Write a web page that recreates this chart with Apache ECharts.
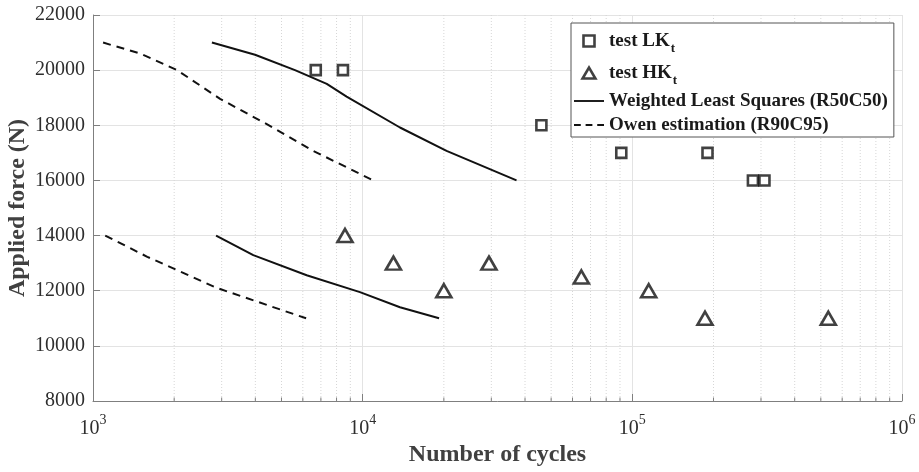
<!DOCTYPE html>
<html>
<head>
<meta charset="utf-8">
<script src="https://cdn.jsdelivr.net/npm/echarts@6/dist/echarts.min.js"></script>
<style>
  html, body { margin: 0; padding: 0; background: #fff; }
  #chart { width: 919px; height: 472px; }
</style>
</head>
<body>
<div id="chart"></div>
<script>
// Fatigue test results (low and high stress concentration) with S-N curve estimates
const lkCycles = [6700, 8450, 46000, 91000, 190000, 280000, 309000];
const lkForce  = [20000, 20000, 18000, 17000, 17000, 16000, 16000];

const hkCycles = [8600, 13000, 20000, 29400, 64700, 115000, 186000, 533000];
const hkForce  = [14000, 13000, 12000, 13000, 12500, 12000, 11000, 11000];

// Weighted least squares median curves (R50C50)
const wlsLkCycles = [2760, 3990, 5610, 7360, 8720, 13750, 20470, 37200];
const wlsLkForce  = [21000, 20560, 20000, 19500, 19040, 17920, 17070, 16000];
const wlsHkCycles = [2860, 3930, 6200, 9770, 13750, 19200];
const wlsHkForce  = [14000, 13290, 12560, 11950, 11400, 11000];

// Owen tolerance curves (R90C95)
const owenLkCycles = [1090, 1500, 2050, 2960, 4410, 6560, 10950];
const owenLkForce  = [21000, 20600, 20000, 18960, 18040, 17070, 16000];
const owenHkCycles = [1110, 1590, 2880, 6170];
const owenHkForce  = [14000, 13230, 12100, 11000];

// Minor log-decade positions for the dotted grid
const minorCycles = [2000, 3000, 4000, 5000, 6000, 7000, 8000, 9000,
                     20000, 30000, 40000, 50000, 60000, 70000, 80000, 90000,
                     200000, 300000, 400000, 500000, 600000, 700000, 800000, 900000];

const forceMin = 8000, forceMax = 22000, forceStep = 2000;

const pairs = (xs, ys) => xs.map((x, i) => [x, ys[i]]);

const FONT = 'Liberation Serif';
const AXIS_GRAY = '#7f7f7f';
const GRID_GRAY = '#e3e3e3';
const INK = '#111111';

// legend glyphs
const ICON_SQUARE = 'path://M0,0 L10,0 L10,10 L0,10 Z';
const ICON_TRIANGLE = 'path://M0,12 L7,0 L14,12 Z';
const ICON_SOLID = 'path://M0,0 L32,0 L32,2 L0,2 Z';
const ICON_DASHED = 'path://M0,0 L7,0 L7,2 L0,2 Z M12,0 L19,0 L19,2 L12,2 Z M24,0 L31,0 L31,2 L24,2 Z';

const chart = echarts.init(document.getElementById('chart'));

const lineBase = {
  type: 'line',
  symbol: 'none',
  smooth: false,
  z: 3,
  silent: true
};

chart.setOption({
  animation: false,
  backgroundColor: '#ffffff',
  grid: { left: 93, right: 17, top: 15, bottom: 71, containLabel: false, outerBoundsMode: 'none' },
  legend: {
    orient: 'vertical',
    left: 571,
    top: 23,
    padding: [3, 6, 1, 3],
    itemWidth: 30,
    itemHeight: 11,
    itemGap: 2,
    symbolKeepAspect: true,
    backgroundColor: '#ffffff',
    borderColor: '#555555',
    borderWidth: 1,
    borderRadius: 0,
    data: [
      { name: 'test LKt', icon: ICON_SQUARE, itemStyle: { borderWidth: 2.6 } },
      { name: 'test HKt', icon: ICON_TRIANGLE, itemStyle: { borderWidth: 2.6 } },
      { name: 'Weighted Least Squares (R50C50)', icon: ICON_SOLID, itemStyle: { color: INK, borderWidth: 0 } },
      { name: 'Owen estimation (R90C95)', icon: ICON_DASHED, itemStyle: { color: INK, borderWidth: 0 } }
    ],
    textStyle: {
      fontFamily: FONT,
      fontSize: 19,
      fontWeight: 'bold',
      color: '#1a1a1a',
      lineHeight: 22,
      rich: {
        m: { fontFamily: FONT, fontSize: 19, fontWeight: 'bold', color: '#1a1a1a', lineHeight: 22 },
        sub: { fontFamily: FONT, fontSize: 13, fontWeight: 'bold', color: '#1a1a1a', padding: [16, 0, 0, 1], lineHeight: 30 }
      }
    },
    formatter: function (name) {
      if (name === 'test LKt') return '{m|test LK}{sub|t}';
      if (name === 'test HKt') return '{m|test HK}{sub|t}';
      return '{m|' + name + '}';
    }
  },
  xAxis: {
    type: 'log',
    logBase: 10,
    min: 1000,
    max: 1000000,
    name: 'Number of cycles',
    nameLocation: 'middle',
    nameGap: 42,
    nameMoveOverlap: false,
    nameTextStyle: { fontFamily: FONT, fontSize: 24, fontWeight: 'bold', color: '#404040' },
    axisLine: { lineStyle: { color: AXIS_GRAY, width: 1 } },
    axisTick: { inside: true, length: 7, lineStyle: { color: AXIS_GRAY } },
    splitLine: { show: true, lineStyle: { color: GRID_GRAY, width: 1 } },
    minorTick: { show: false },
    axisLabel: {
      margin: 10,
      formatter: function (v) {
        return '{b|10}{s|' + Math.round(Math.log10(v)) + '}';
      },
      rich: {
        b: { fontFamily: FONT, fontSize: 20, color: '#2e2e2e', padding: [8, 0, 0, 0] },
        s: { fontFamily: FONT, fontSize: 14, color: '#2e2e2e', padding: [0, 0, 10, 0] }
      }
    }
  },
  yAxis: {
    type: 'value',
    min: forceMin,
    max: forceMax,
    interval: forceStep,
    name: 'Applied force (N)',
    nameLocation: 'middle',
    nameGap: 63,
    nameMoveOverlap: false,
    nameTextStyle: { fontFamily: FONT, fontSize: 24, fontWeight: 'bold', color: '#404040' },
    axisLine: { show: true, lineStyle: { color: AXIS_GRAY, width: 1 } },
    axisTick: { show: true, inside: true, length: 7, lineStyle: { color: AXIS_GRAY } },
    splitLine: { show: true, lineStyle: { color: GRID_GRAY, width: 1 } },
    axisLabel: {
      margin: 8,
      fontFamily: FONT,
      fontSize: 20,
      color: '#2e2e2e',
      formatter: function (v) { return String(v); }
    }
  },
  series: [
    {
      // dotted minor grid with short inward ticks at 2..9 of each decade
      type: 'custom',
      name: 'minor',
      silent: true,
      z: 1,
      data: minorCycles.map(c => [c, forceMin]),
      renderItem: function (params, api) {
        const x = api.value(0);
        const top = api.coord([x, forceMax]);
        const bot = api.coord([x, forceMin]);
        return {
          type: 'group',
          children: [
            {
              type: 'line',
              shape: { x1: top[0], y1: top[1], x2: bot[0], y2: bot[1] },
              style: { stroke: '#d6d6d6', lineWidth: 1, lineDash: [1, 2] }
            },
            {
              type: 'line',
              shape: { x1: bot[0], y1: bot[1], x2: bot[0], y2: bot[1] - 3.5 },
              style: { stroke: AXIS_GRAY, lineWidth: 1 }
            }
          ]
        };
      }
    },
    Object.assign({}, lineBase, {
      name: 'Weighted Least Squares (R50C50)',
      data: pairs(wlsLkCycles, wlsLkForce),
      lineStyle: { color: INK, width: 2, type: 'solid' },
      itemStyle: { color: INK }
    }),
    Object.assign({}, lineBase, {
      name: 'Weighted Least Squares (R50C50)',
      data: pairs(wlsHkCycles, wlsHkForce),
      lineStyle: { color: INK, width: 2, type: 'solid' },
      itemStyle: { color: INK }
    }),
    Object.assign({}, lineBase, {
      name: 'Owen estimation (R90C95)',
      data: pairs(owenLkCycles, owenLkForce),
      lineStyle: { color: INK, width: 2, type: [8, 6] },
      itemStyle: { color: INK }
    }),
    Object.assign({}, lineBase, {
      name: 'Owen estimation (R90C95)',
      data: pairs(owenHkCycles, owenHkForce),
      lineStyle: { color: INK, width: 2, type: [8, 6] },
      itemStyle: { color: INK }
    }),
    {
      type: 'scatter',
      name: 'test LKt',
      symbol: 'rect',
      symbolSize: 10,
      z: 4,
      data: pairs(lkCycles, lkForce),
      itemStyle: { color: '#ffffff', borderColor: INK, borderWidth: 2.6 }
    },
    {
      type: 'scatter',
      name: 'test HKt',
      symbol: 'triangle',
      symbolSize: [15, 13],
      z: 4,
      data: pairs(hkCycles, hkForce),
      itemStyle: { color: '#ffffff', borderColor: INK, borderWidth: 2.6 }
    }
  ]
});
</script>
</body>
</html>
